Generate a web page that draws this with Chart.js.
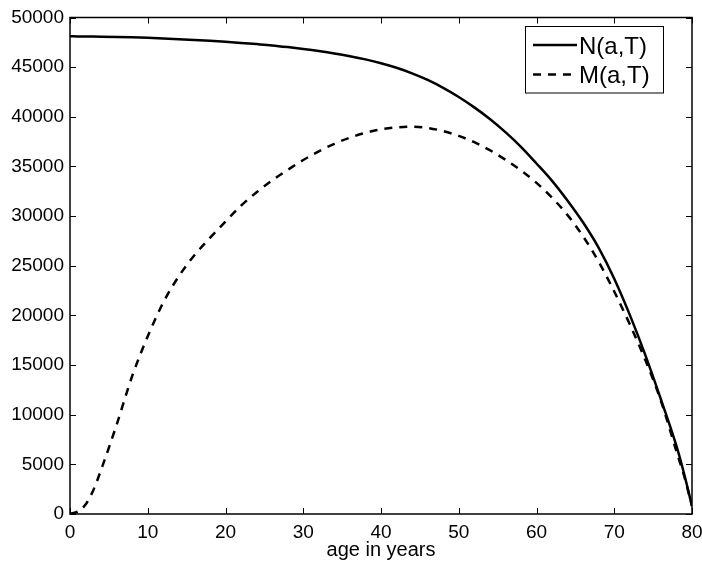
<!DOCTYPE html>
<html>
<head>
<meta charset="utf-8">
<script src="https://cdn.jsdelivr.net/npm/chart.js@4.4.0/dist/chart.umd.min.js"></script>
<style>
  body { margin: 0; background: #fff; }
  #wrap { width: 702px; height: 562px; }
</style>
</head>
<body>
<div id="wrap"><canvas id="ageChart" width="702" height="562"></canvas></div>
<script>
// ages (years) and the two curves
const ages = [0, 1, 2, 3, 4, 6, 8, 10, 12, 14, 16, 18, 20, 22, 24, 26, 28, 30, 32, 34, 36, 38,
  40, 42, 44, 46, 48, 50, 52, 54, 56, 58, 60, 62, 64, 66, 68, 70, 72, 74, 76, 78, 79, 80];
const nValues = [48100, 48098, 48092, 48082, 48070, 48040, 48000, 47950, 47890, 47820, 47740, 47650,
  47550, 47440, 47320, 47190, 47020, 46830, 46620, 46380, 46100, 45780,
  45400, 44940, 44380, 43710, 42920, 42000, 40950, 39780, 38460, 36980,
  35300, 33550, 31550, 29350, 26800, 23700, 20050, 16000, 11550, 6850, 4000, 800];
const mValues = [0, 250, 950, 2400, 4450, 9000, 13900, 17900, 21300, 23950, 26050, 27800,
  29450, 31050, 32400, 33600, 34650, 35650, 36520, 37280, 37900, 38380,
  38730, 38930, 39000, 38880, 38560, 38080, 37440, 36640, 35680, 34600,
  33350, 31850, 30100, 27950, 25400, 22400, 19100, 15500, 11400, 6300, 3800, 800];
const seriesNames = ['N(a,T)', 'M(a,T)'];
const xLabel = 'age in years';

const FONT = '"Liberation Sans", Arial, Helvetica, sans-serif';

// box round the plot, inward ticks on all sides, and the boxed legend
const framePlugin = {
  id: 'framePlugin',
  afterDraw(chart) {
    const ctx = chart.ctx;
    const a = chart.chartArea;
    const xs = chart.scales.x, ys = chart.scales.y;
    ctx.save();
    ctx.strokeStyle = '#000';
    ctx.lineWidth = 1;
    ctx.beginPath();
    const len = 6;
    xs.ticks.forEach(t => {
      const px = Math.round(xs.getPixelForValue(t.value)) + 0.5;
      ctx.moveTo(px, a.bottom); ctx.lineTo(px, a.bottom - len);
      ctx.moveTo(px, a.top); ctx.lineTo(px, a.top + len);
    });
    ys.ticks.forEach(t => {
      const py = Math.round(ys.getPixelForValue(t.value)) + 0.5;
      ctx.moveTo(a.left, py); ctx.lineTo(a.left + len, py);
      ctx.moveTo(a.right, py); ctx.lineTo(a.right - len, py);
    });
    ctx.stroke();
    ctx.lineWidth = 1.5;
    ctx.strokeRect(a.left, a.top, a.right - a.left, a.bottom - a.top);

    // legend
    const bx = 525, by = 26.5, bw = 138, bh = 66.5;
    ctx.fillStyle = '#fff';
    ctx.fillRect(bx, by, bw, bh);
    ctx.lineWidth = 1;
    ctx.strokeRect(bx + 0.5, by, bw, bh);
    ctx.font = '24px ' + FONT;
    ctx.textBaseline = 'middle';
    ctx.textAlign = 'left';
    chart.data.datasets.forEach((ds, i) => {
      const ly = 45 + i * 29.5;
      ctx.beginPath();
      ctx.lineWidth = ds.borderWidth;
      ctx.strokeStyle = ds.borderColor;
      ctx.setLineDash(ds.borderDash || []);
      ctx.moveTo(533, ly);
      ctx.lineTo(577, ly);
      ctx.stroke();
      ctx.setLineDash([]);
      ctx.fillStyle = '#000';
      ctx.fillText(ds.label, 579, ly + 2);
    });
    ctx.restore();
  }
};

const toPoints = vals => ages.map((a, i) => ({ x: a, y: vals[i] }));

new Chart(document.getElementById('ageChart').getContext('2d'), {
  type: 'line',
  data: {
    datasets: [
      {
        label: seriesNames[0],
        data: toPoints(nValues),
        borderColor: '#000',
        borderWidth: 2.5,
        pointRadius: 0,
        fill: false,
        cubicInterpolationMode: 'monotone'
      },
      {
        label: seriesNames[1],
        data: toPoints(mValues),
        borderColor: '#000',
        borderWidth: 2.5,
        borderDash: [8, 7],
        pointRadius: 0,
        fill: false,
        cubicInterpolationMode: 'monotone'
      }
    ]
  },
  options: {
    responsive: false,
    animation: false,
    layout: { padding: { left: 0, right: 10, top: 17.5, bottom: 0 } },
    plugins: {
      legend: { display: false },
      tooltip: { enabled: false }
    },
    scales: {
      x: {
        type: 'linear',
        min: 0,
        max: 80,
        grid: { display: false, drawTicks: false },
        border: { display: false },
        ticks: {
          stepSize: 10,
          padding: 7,
          maxRotation: 0,
          color: '#000',
          font: { family: FONT, size: 19 }
        },
        title: {
          display: true,
          text: xLabel,
          color: '#000',
          padding: 0,
          font: { family: FONT, size: 20 }
        },
        afterFit(scale) {
          scale.height = 48;
          scale.paddingLeft = 0;
          scale.paddingRight = 0;
        }
      },
      y: {
        type: 'linear',
        min: 0,
        max: 50000,
        grid: { display: false, drawTicks: false },
        border: { display: false },
        ticks: {
          stepSize: 5000,
          padding: 6,
          color: '#000',
          font: { family: FONT, size: 19 },
          callback: v => String(v)
        },
        afterFit(scale) {
          scale.width = 70;
          scale.paddingTop = 0;
          scale.paddingBottom = 0;
        }
      }
    }
  },
  plugins: [framePlugin]
});
</script>
</body>
</html>
